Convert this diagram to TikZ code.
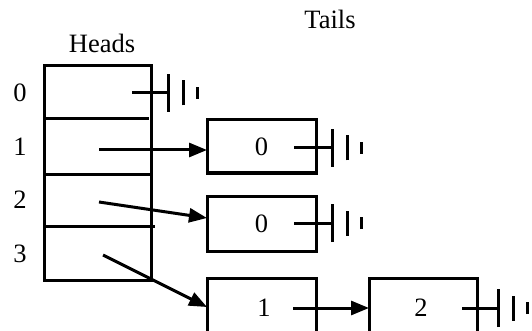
\documentclass[tikz,border=0pt]{standalone}
\usepackage{fontspec}
\setmainfont{Liberation Serif}
\usetikzlibrary{arrows.meta}
\begin{document}
\begin{tikzpicture}[x=1pt,y=-1pt,
  ln/.style={line width=3pt},
  lbl/.style={font=\fontsize{26.5}{26.5}\selectfont, inner sep=0pt},
  cellbox/.style={draw, line width=3pt, inner sep=0pt, font=\fontsize{26.5}{26.5}\selectfont},
  arr/.style={line width=3pt, -{Triangle[length=18pt,width=14pt]}},
  nullbar/.style={line width=3pt}
]
\useasboundingbox (0,0) rectangle (532,331);
\clip (0,0) rectangle (532,331);
% labels
\node[lbl] (heads) at (102,43) {Heads};
\node[lbl] (tails) at (330,19) {Tails};
\node[lbl] (i0) at (20,93) {0};
\node[lbl] (i1) at (20,147) {1};
\node[lbl] (i2) at (20,200) {2};
\node[lbl] (i3) at (20,254) {3};
% heads array
\node[cellbox, minimum width=107pt, minimum height=214pt] (arr) at (97.5,173) {};
\draw[ln] (43,119) -- (149,119);
\draw[ln] (43,174) -- (153,174);
\draw[ln] (43,226) -- (155,226);
% tail boxes
\node[cellbox, minimum width=109pt, minimum height=53pt] (t1) at (261.5,146.5) {0};
\node[cellbox, minimum width=109pt, minimum height=55pt] (t2) at (261.5,223.5) {0};
\node[cellbox, minimum width=109pt, minimum height=70pt] (t3) at (261.5,313) {};
\node[cellbox, minimum width=108pt, minimum height=70pt] (t4) at (423,313) {};
\node[lbl] (t3l) at (264,308) {1};
\node[lbl] (t4l) at (421,308) {2};
% arrow ends
\coordinate (a1) at (99,150);
\coordinate (a2) at (99,202);
\coordinate (a3) at (103,255);
\coordinate (b1) at (207,150);
\coordinate (b2) at (207,218);
\coordinate (b3) at (207,307);
\coordinate (a4) at (293,308);
\coordinate (b4) at (369,308);
\draw[arr] (a1) -- (b1);
\draw[arr] (a2) -- (b2);
\draw[arr] (a3) -- (b3);
\draw[arr] (a4) -- (b4);
% null symbols
\newcommand{\nullsym}[4]{%
  \coordinate (#1s) at (#2,#4);
  \coordinate (#1e) at (#3,#4);
  \draw[nullbar] (#1s) -- (#1e);
  \draw[nullbar] ([yshift=-19pt]#1e) -- ([yshift=19pt]#1e);
  \draw[nullbar] ([xshift=15pt,yshift=-12.5pt]#1e) -- ([xshift=15pt,yshift=12.5pt]#1e);
  \draw[nullbar] ([xshift=29pt,yshift=-6pt]#1e) -- ([xshift=29pt,yshift=6pt]#1e);
}
\nullsym{n0}{132}{168}{93}
\nullsym{n1}{294}{332}{148}
\nullsym{n2}{294}{332}{223}
\nullsym{n4}{462}{498}{308}
\end{tikzpicture}
\end{document}
